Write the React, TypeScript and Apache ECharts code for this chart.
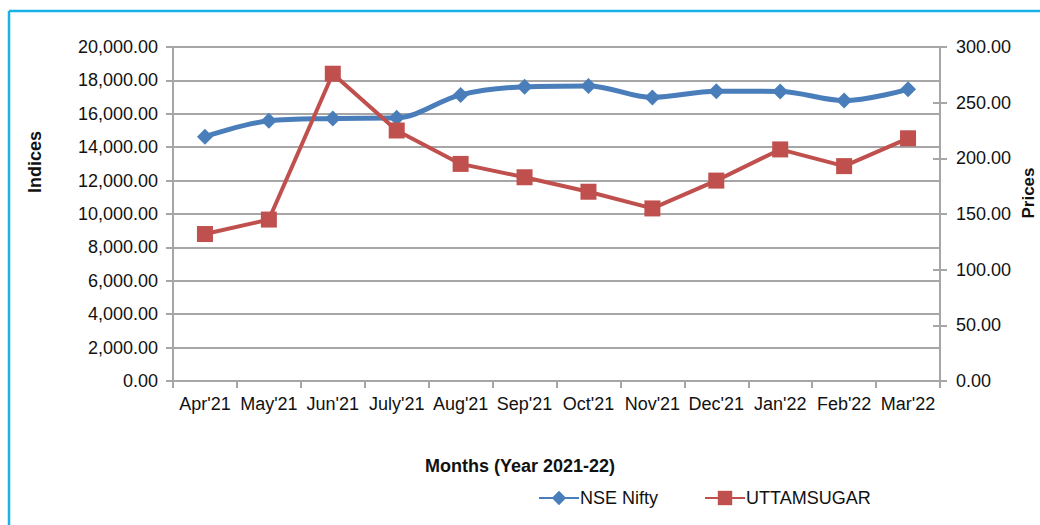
import React, { useEffect, useRef } from "react";
import * as echarts from "echarts";

const months = ["Apr'21", "May'21", "Jun'21", "July'21", "Aug'21", "Sep'21", "Oct'21", "Nov'21", "Dec'21", "Jan'22", "Feb'22", "Mar'22"];
const nseNifty = [14631, 15583, 15722, 15763, 17132, 17618, 17672, 16983, 17354, 17340, 16794, 17465];
const uttamSugar = [132, 145, 276, 225, 195, 183, 170, 155, 180, 208, 193, 218];

const FONT = "'Liberation Sans', Arial, sans-serif";
const TEXT = "#111111";
const GRID = "#a6a6a6";

export default function App() {
  const ref = useRef<HTMLDivElement>(null);
  useEffect(() => {
    const chart = echarts.init(ref.current!, null, { renderer: "svg" });
    const fmt = (v: number) =>
      v.toLocaleString("en-US", { minimumFractionDigits: 2, maximumFractionDigits: 2 });
    chart.setOption({
      animation: false,
      backgroundColor: "#ffffff",
      textStyle: { fontFamily: FONT },
      grid: { left: 173, right: 100, top: 47, bottom: 144 },
      legend: {
        left: 533,
        top: 484,
        itemWidth: 40,
        itemHeight: 18,
        itemGap: 46,
        textStyle: { fontFamily: FONT, fontSize: 18, color: TEXT, padding: [0, 0, 0, -4] },
        data: ["NSE Nifty", "UTTAMSUGAR"],
      },
      xAxis: {
        type: "category",
        data: months,
        boundaryGap: true,
        axisLine: { lineStyle: { color: GRID, width: 2 } },
        axisTick: { show: true, length: 7, lineStyle: { color: GRID, width: 2 } },
        axisLabel: { color: TEXT, fontSize: 18, fontFamily: FONT, margin: 14, interval: 0 },
        splitLine: { show: false },
      },
      yAxis: [
        {
          type: "value",
          position: "left",
          min: 0,
          max: 20000,
          interval: 2000,
          axisLine: { show: true, lineStyle: { color: GRID, width: 2 } },
          axisTick: { show: true, length: 7, lineStyle: { color: GRID, width: 2 } },
          axisLabel: { color: TEXT, fontSize: 18, fontFamily: FONT, margin: 15, formatter: fmt },
          splitLine: { show: true, lineStyle: { color: GRID, width: 2 } },
        },
        {
          type: "value",
          position: "right",
          min: 0,
          max: 300,
          interval: 50,
          axisLine: { show: true, lineStyle: { color: GRID, width: 2 } },
          axisTick: { show: true, length: 7, lineStyle: { color: GRID, width: 2 } },
          axisLabel: { color: TEXT, fontSize: 18, fontFamily: FONT, margin: 16, formatter: fmt },
          splitLine: { show: false },
        },
        {
          type: "value",
          position: "right",
          min: 0,
          max: 300,
          interval: 50,
          axisLine: { show: false },
          axisTick: { show: true, inside: true, length: 7, lineStyle: { color: GRID, width: 2 } },
          axisLabel: { show: false },
          splitLine: { show: false },
        },
      ],
      series: [
        {
          name: "NSE Nifty",
          type: "line",
          yAxisIndex: 0,
          data: nseNifty,
          smooth: 0.35,
          symbol: "diamond",
          symbolSize: 16,
          lineStyle: { color: "#4a7ebb", width: 5 },
          itemStyle: { color: "#4a7ebb" },
          z: 3,
        },
        {
          name: "UTTAMSUGAR",
          type: "line",
          yAxisIndex: 1,
          data: uttamSugar,
          smooth: false,
          symbol: "rect",
          symbolSize: 16,
          lineStyle: { color: "#c0504d", width: 4 },
          itemStyle: { color: "#c0504d" },
          z: 4,
        },
      ],
      graphic: [
        { type: "line", shape: { x1: 9, y1: 11, x2: 1040, y2: 11 }, style: { stroke: "#19b2e6", lineWidth: 2.5 } },
        { type: "line", shape: { x1: 9, y1: 11, x2: 9, y2: 525 }, style: { stroke: "#19b2e6", lineWidth: 2.5 } },
        {
          type: "text",
          x: 35,
          y: 162,
          rotation: Math.PI / 2,
          style: { text: "Indices", font: `bold 18px ${FONT}`, fill: TEXT, align: "center", verticalAlign: "middle" },
        },
        {
          type: "text",
          x: 1028,
          y: 193,
          rotation: Math.PI / 2,
          style: { text: "Prices", font: `bold 17px ${FONT}`, fill: TEXT, align: "center", verticalAlign: "middle" },
        },
        {
          type: "text",
          x: 520,
          y: 466,
          style: { text: "Months (Year 2021-22)", font: `bold 18px ${FONT}`, fill: TEXT, align: "center", verticalAlign: "middle" },
        },
      ],
    });
    return () => chart.dispose();
  }, []);
  return <div ref={ref} style={{ position: "absolute", left: 0, top: 0, width: 1040, height: 525 }} />;
}
